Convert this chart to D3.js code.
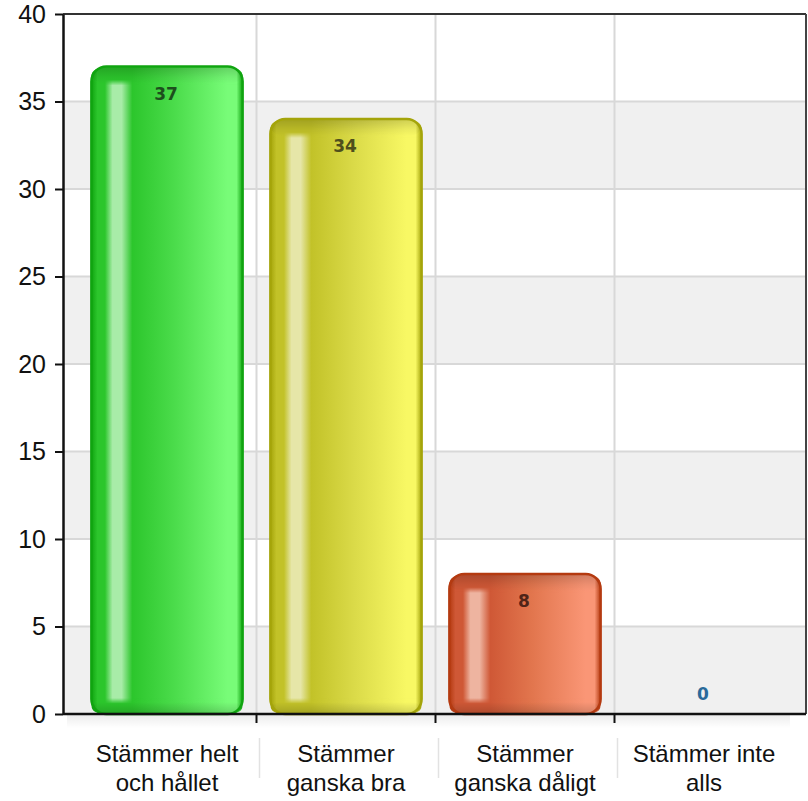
<!DOCTYPE html>
<html><head><meta charset="utf-8">
<script src="https://cdn.jsdelivr.net/npm/d3@7"></script>
<style>html,body{margin:0;padding:0;background:#fff;}svg{display:block;}</style>
</head><body>
<script>
const categories = ["Stämmer helt och hållet", "Stämmer ganska bra", "Stämmer ganska dåligt", "Stämmer inte alls"];
const categoryLines = [["Stämmer helt", "och hållet"], ["Stämmer", "ganska bra"], ["Stämmer", "ganska dåligt"], ["Stämmer inte", "alls"]];
const values = [37, 34, 8, 0];
const yTicks = [0, 5, 10, 15, 20, 25, 30, 35, 40];

const palette = [
  {edge:"#10a410", dark:"#2cc62c", mid:"#4bdc4b", light:"#78fc78", stripe:"#a8eca8", label:"#1d4f1d"},
  {edge:"#a4a40a", dark:"#c2c228", mid:"#dada48", light:"#f8f864", stripe:"#e6e6a8", label:"#4e4e1c"},
  {edge:"#b43a10", dark:"#cf5836", mid:"#e2764e", light:"#fa9676", stripe:"#eeb4a0", label:"#4e2418"},
  {edge:"#1f5f8f", dark:"#3a7fbf", mid:"#4a90d0", light:"#6ab0f0", stripe:"#b0d0f0", label:"#2a6a9a"}
];

(function () {
const W = 808, H = 801;
const pL = 63, pR = 806, pT = 14, pB = 714;

const svg = d3.select("body").append("svg").attr("width", W).attr("height", H);
const defs = svg.append("defs");

const y = d3.scaleLinear().domain([0, 40]).range([pB, pT]);
const x = d3.scaleBand().domain(categories).range([77.5, 793.5]).padding(0);
const barW = x.bandwidth() * 0.845;
const bx = c => x(c) + (x.bandwidth() - barW) / 2;

// background bands
const bands = yTicks.slice(0, -1).filter((t, i) => i % 2 === 0);
svg.append("g").selectAll("rect").data(bands).join("rect")
  .attr("x", pL).attr("width", pR - pL)
  .attr("y", d => y(d + 5)).attr("height", d => y(d) - y(d + 5))
  .attr("fill", "#f0f0f0");

// shadow below axis
const sh = defs.append("linearGradient").attr("id", "shadow").attr("x1", 0).attr("y1", 0).attr("x2", 0).attr("y2", 1);
sh.append("stop").attr("offset", "0%").attr("stop-color", "#000").attr("stop-opacity", 0.08);
sh.append("stop").attr("offset", "100%").attr("stop-color", "#000").attr("stop-opacity", 0);
svg.append("rect").attr("x", pL + 4).attr("y", pB).attr("width", pR - pL - 20).attr("height", 14).attr("fill", "url(#shadow)");

// horizontal gridlines
svg.append("g").selectAll("line").data(yTicks.filter(t => t > 0 && t < 40)).join("line")
  .attr("x1", pL).attr("x2", pR).attr("y1", d => y(d)).attr("y2", d => y(d))
  .attr("stroke", "#d8d8d8").attr("stroke-width", 2);

// vertical gridlines at category boundaries
const bounds = categories.slice(1).map(c => x(c));
svg.append("g").selectAll("line").data(bounds).join("line")
  .attr("x1", d => d).attr("x2", d => d).attr("y1", pT).attr("y2", pB)
  .attr("stroke", "#d8d8d8").attr("stroke-width", 2);

// gradients for bars
palette.forEach((p, i) => {
  const g = defs.append("linearGradient").attr("id", "bg" + i).attr("x1", 0).attr("x2", 1).attr("y1", 0).attr("y2", 0);
  [[0, p.edge], [0.04, p.dark], [0.09, p.dark], [0.14, p.stripe], [0.2, p.stripe], [0.27, p.dark], [0.55, p.mid], [0.9, p.light], [0.96, p.light], [1, p.edge]]
    .forEach(([o, c]) => g.append("stop").attr("offset", o).attr("stop-color", c));
  const g2 = defs.append("linearGradient").attr("id", "cap" + i).attr("x1", 0).attr("x2", 1).attr("y1", 0).attr("y2", 0);
  [[0, p.edge], [0.04, p.dark], [0.27, p.dark], [0.55, p.mid], [0.9, p.light], [0.96, p.light], [1, p.edge]]
    .forEach(([o, c]) => g2.append("stop").attr("offset", o).attr("stop-color", c));
});
const topG = defs.append("linearGradient").attr("id", "capG").attr("x1", 0).attr("x2", 0).attr("y1", 0).attr("y2", 1);
topG.append("stop").attr("offset", "0%").attr("stop-color", "#000").attr("stop-opacity", 0.16);
topG.append("stop").attr("offset", "60%").attr("stop-color", "#000").attr("stop-opacity", 0.05);
topG.append("stop").attr("offset", "100%").attr("stop-color", "#000").attr("stop-opacity", 0);
const botG = defs.append("linearGradient").attr("id", "botG").attr("x1", 0).attr("x2", 0).attr("y1", 0).attr("y2", 1);
botG.append("stop").attr("offset", "0%").attr("stop-color", "#000").attr("stop-opacity", 0);
botG.append("stop").attr("offset", "100%").attr("stop-color", "#000").attr("stop-opacity", 0.15);
// soft vertical fade mask for cap/bottom edges
const fadeT = defs.append("linearGradient").attr("id", "fadeT").attr("x1", 0).attr("x2", 0).attr("y1", 0).attr("y2", 1);
fadeT.append("stop").attr("offset", "0%").attr("stop-color", "#fff").attr("stop-opacity", 1);
fadeT.append("stop").attr("offset", "70%").attr("stop-color", "#fff").attr("stop-opacity", 1);
fadeT.append("stop").attr("offset", "100%").attr("stop-color", "#fff").attr("stop-opacity", 0);
defs.append("mask").attr("id", "mT").attr("maskContentUnits", "objectBoundingBox")
  .append("rect").attr("width", 1).attr("height", 1).attr("fill", "url(#fadeT)");
const fadeB = defs.append("linearGradient").attr("id", "fadeB").attr("x1", 0).attr("x2", 0).attr("y1", 0).attr("y2", 1);
fadeB.append("stop").attr("offset", "0%").attr("stop-color", "#fff").attr("stop-opacity", 0);
fadeB.append("stop").attr("offset", "35%").attr("stop-color", "#fff").attr("stop-opacity", 1);
fadeB.append("stop").attr("offset", "100%").attr("stop-color", "#fff").attr("stop-opacity", 1);
defs.append("mask").attr("id", "mB").attr("maskContentUnits", "objectBoundingBox")
  .append("rect").attr("width", 1).attr("height", 1).attr("fill", "url(#fadeB)");

const data = categories.map((c, i) => ({c, v: values[i], i}));
const bars = svg.append("g").selectAll("g").data(data.filter(d => d.v > 0)).join("g");
bars.append("rect")
  .attr("x", d => bx(d.c)).attr("width", barW)
  .attr("y", d => y(d.v)).attr("height", d => y(0) - y(d.v))
  .attr("rx", 15).attr("ry", 15)
  .attr("fill", d => `url(#bg${d.i})`);
// top cap (no stripe)
const capT = bars.append("g").attr("mask", "url(#mT)");
capT.append("rect")
  .attr("x", d => bx(d.c)).attr("width", barW)
  .attr("y", d => y(d.v)).attr("height", 19)
  .attr("rx", 15).attr("ry", 15)
  .attr("fill", d => `url(#cap${d.i})`);
capT.append("rect")
  .attr("x", d => bx(d.c)).attr("width", barW)
  .attr("y", d => y(d.v) + 8).attr("height", 11)
  .attr("fill", d => `url(#cap${d.i})`);
bars.append("rect")
  .attr("x", d => bx(d.c) + 1).attr("width", barW - 2)
  .attr("y", d => y(d.v) + 1).attr("height", 16)
  .attr("rx", 13)
  .attr("fill", "url(#capG)");
// bottom band
const capB = bars.append("g").attr("mask", "url(#mB)");
capB.append("rect")
  .attr("x", d => bx(d.c)).attr("width", barW)
  .attr("y", d => y(0) - 16).attr("height", 16)
  .attr("rx", 12)
  .attr("fill", d => `url(#cap${d.i})`);
capB.append("rect")
  .attr("x", d => bx(d.c)).attr("width", barW)
  .attr("y", d => y(0) - 16).attr("height", 6)
  .attr("fill", d => `url(#cap${d.i})`);
bars.append("rect")
  .attr("x", d => bx(d.c) + 1).attr("width", barW - 2)
  .attr("y", d => y(0) - 12).attr("height", 11)
  .attr("rx", 10)
  .attr("fill", "url(#botG)");
// outline
bars.append("rect")
  .attr("x", d => bx(d.c)).attr("width", barW)
  .attr("y", d => y(d.v)).attr("height", d => y(0) - y(d.v))
  .attr("rx", 15).attr("ry", 15)
  .attr("fill", "none")
  .attr("stroke", d => palette[d.i].edge).attr("stroke-width", 2.5);

// value labels
svg.append("g").selectAll("text").data(data).join("text")
  .attr("x", d => x(d.c) + x.bandwidth() / 2 - 1)
  .attr("y", d => d.v > 0 ? y(d.v) + 33 : y(d.v) - 14)
  .attr("text-anchor", "middle")
  .attr("font-family", "DejaVu Sans, Verdana, sans-serif")
  .attr("font-weight", "bold").attr("font-size", 17)
  .attr("fill", d => palette[d.i].label)
  .text(d => d.v);

// frame: top and right
svg.append("line").attr("x1", pL).attr("x2", pR).attr("y1", pT).attr("y2", pT).attr("stroke", "#333").attr("stroke-width", 2);
svg.append("line").attr("x1", pR).attr("x2", pR).attr("y1", pT).attr("y2", pB).attr("stroke", "#444").attr("stroke-width", 2);

// y axis
const yAxis = svg.append("g").attr("transform", `translate(${pL},0)`)
  .call(d3.axisLeft(y).tickValues(yTicks).tickSize(8).tickPadding(9).tickSizeOuter(0));
yAxis.select(".domain").attr("stroke", "#111").attr("stroke-width", 2.5);
yAxis.selectAll(".tick line").attr("stroke", "#111").attr("stroke-width", 2);
yAxis.selectAll("text").attr("font-family", "Liberation Sans, Arial, sans-serif").attr("font-size", 25).attr("fill", "#111");

// x axis
const xAxis = svg.append("g").attr("transform", `translate(0,${pB})`)
  .call(d3.axisBottom(x).tickValues([]).tickSizeOuter(0));
xAxis.select(".domain").attr("d", `M${pL},0H${pR}`).attr("stroke", "#111").attr("stroke-width", 2.5);
xAxis.selectAll(".bt").data(bounds).join("line").attr("class", "bt")
  .attr("x1", d => d).attr("x2", d => d).attr("y1", 0).attr("y2", 9)
  .attr("stroke", "#111").attr("stroke-width", 2);
// faint separators between labels
svg.append("g").selectAll("line").data(bounds).join("line")
  .attr("x1", d => d + 3).attr("x2", d => d + 3).attr("y1", pB + 24).attr("y2", pB + 64)
  .attr("stroke", "#e2e2e2").attr("stroke-width", 1.5);

// category labels
const lbl = svg.append("g").selectAll("text").data(data).join("text")
  .attr("text-anchor", "middle")
  .attr("font-family", "Liberation Sans, Arial, sans-serif")
  .attr("font-size", 24).attr("fill", "#111");
lbl.selectAll("tspan").data(d => categoryLines[d.i].map(t => ({t, cx: x(d.c) + x.bandwidth() / 2}))).join("tspan")
  .attr("x", d => d.cx).attr("y", (d, j) => 762 + j * 29)
  .text(d => d.t);
})();
</script>
</body></html>
